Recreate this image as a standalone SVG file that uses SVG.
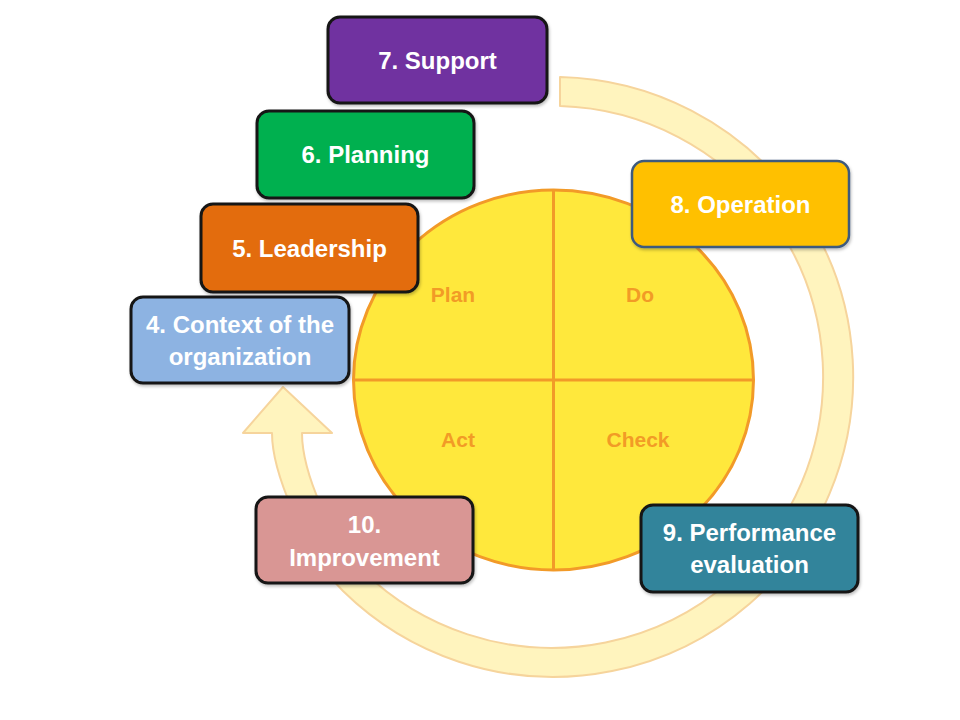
<svg xmlns="http://www.w3.org/2000/svg" width="960" height="720" viewBox="0 0 960 720">
  <defs>
    <filter id="sh" x="-10%" y="-10%" width="125%" height="130%">
      <feDropShadow dx="1" dy="2" stdDeviation="1.5" flood-color="#000" flood-opacity="0.25"/>
    </filter>
    <style>
      .box { stroke: #141414; stroke-width: 3; filter: url(#sh); }
      .lbl { font-family: "Liberation Sans", Arial, sans-serif; font-weight: bold; font-size: 24px; fill: #ffffff; text-anchor: middle; }
      .pdca { font-family: "Liberation Sans", Arial, sans-serif; font-weight: bold; font-size: 21px; fill: #F29B26; text-anchor: middle; }
      .quad { stroke: #F29A28; stroke-width: 3; fill: none; }
    </style>
  </defs>
  <rect width="960" height="720" fill="#ffffff"/>

  <g id="connectors">
    <path id="cycle-arrow" d="M 560,77 A 300 300 0 1 1 343,591 C 312,560 272,478 272,433 L 243,433 L 283,387 L 332,433 L 302,433 C 302,472 332,542 363,571 A 271 271 0 1 0 560,106 Z" fill="#FFF4BE" stroke="#F6D49C" stroke-width="2" stroke-linejoin="round"/>
  </g>

  <g id="pdca-circle">
    <ellipse cx="553.5" cy="380" rx="200" ry="190" fill="#FFE83C" stroke="#F29A28" stroke-width="3"/>
    <line class="quad" x1="553.5" y1="190" x2="553.5" y2="570"/>
    <line class="quad" x1="353.5" y1="380" x2="753.5" y2="380"/>
    <text class="pdca" x="453" y="302">Plan</text>
    <text class="pdca" x="640" y="302">Do</text>
    <text class="pdca" x="458" y="447">Act</text>
    <text class="pdca" x="638" y="447">Check</text>
  </g>

  <g id="n7">
    <rect class="box" x="328" y="17" width="219" height="86" rx="12" fill="#7030A0"/>
    <text class="lbl" x="437.5" y="69">7. Support</text>
  </g>
  <g id="n6">
    <rect class="box" x="257" y="111" width="217" height="87" rx="12" fill="#00B050"/>
    <text class="lbl" x="365.5" y="163">6. Planning</text>
  </g>
  <g id="n5">
    <rect class="box" x="201" y="204" width="217" height="88" rx="12" fill="#E36C0A"/>
    <text class="lbl" x="309.5" y="257">5. Leadership</text>
  </g>
  <g id="n4">
    <rect class="box" x="131" y="297" width="218" height="86" rx="12" fill="#8DB3E2"/>
    <text class="lbl" x="240" y="333">4. Context of the</text>
    <text class="lbl" x="240" y="365">organization</text>
  </g>
  <g id="n8">
    <rect class="box" x="632" y="161" width="217" height="86" rx="12" fill="#FFC000" style="stroke:#3E5A7E;stroke-width:2.5"/>
    <text class="lbl" x="740.5" y="213">8. Operation</text>
  </g>
  <g id="n9">
    <rect class="box" x="641" y="505" width="217" height="87" rx="12" fill="#31849B"/>
    <text class="lbl" x="749.5" y="541">9. Performance</text>
    <text class="lbl" x="749.5" y="573">evaluation</text>
  </g>
  <g id="n10">
    <rect class="box" x="256" y="497" width="217" height="86" rx="12" fill="#D99694"/>
    <text class="lbl" x="364.5" y="533">10.</text>
    <text class="lbl" x="364.5" y="566">Improvement</text>
  </g>
</svg>
